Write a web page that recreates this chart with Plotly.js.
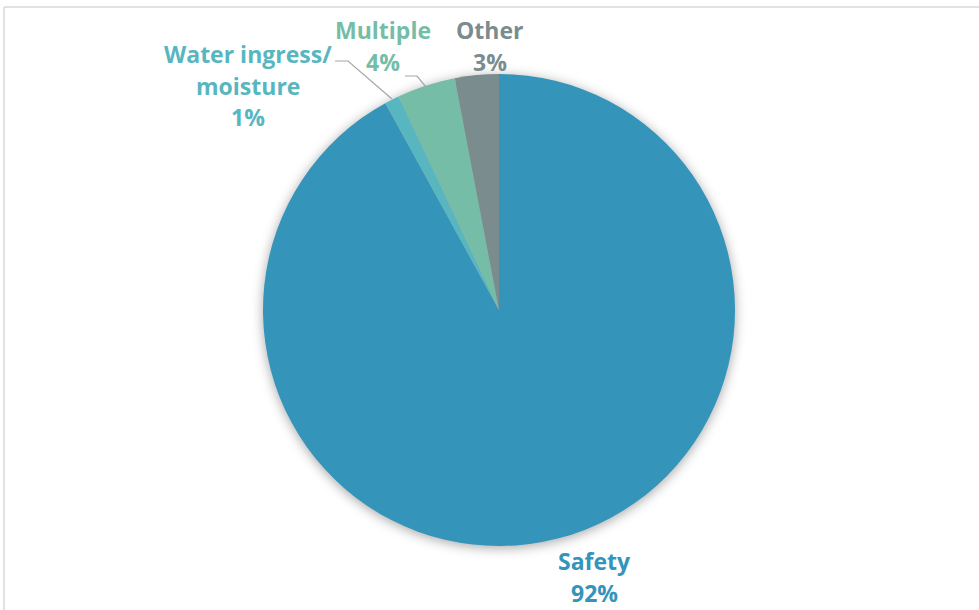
<!DOCTYPE html>
<html>
<head>
<meta charset="utf-8">
<script src="https://cdn.plot.ly/plotly-3.0.1.min.js"></script>
<style>
html,body{margin:0;padding:0;background:#fff;}
#chart{width:979px;height:610px;}
.pielayer{filter:drop-shadow(0px 2px 6px rgba(0,0,0,0.35));}
</style>
</head>
<body>
<div id="chart"></div>
<script>
const categories = ['Safety', 'Water ingress/ moisture', 'Multiple', 'Other'];
const values = [92, 1, 4, 3];
const colors = ['#3494BA', '#58B6C0', '#75BDA7', '#7A8C8E'];

const W = 979, H = 610;
const px = x => x / W;
const py = y => 1 - y / H;

// label placement (pixel centres of each text line block)
const labelPos = [
  {x: 594, y: [561, 593]},
  {x: 248, y: [54, 86, 117]},
  {x: 383, y: [30, 62]},
  {x: 490, y: [30, 62]}
];

const annotations = [];
categories.forEach((c, i) => {
  const lines = c.split('/ ').map((s, k, arr) => k < arr.length - 1 ? s + '/' : s);
  lines.push(values[i] + '%');
  lines.forEach((t, k) => {
    annotations.push({
      text: t, xref: 'paper', yref: 'paper',
      x: px(labelPos[i].x), y: py(labelPos[i].y[k]),
      xanchor: 'center', yanchor: 'middle', showarrow: false,
      font: {family: '"Open Sans", sans-serif', size: 23, weight: 'bold', color: colors[i]}
    });
  });
});

const shapes = [
  // chart border (top and left)
  {type: 'line', xref: 'paper', yref: 'paper', x0: px(4), x1: 1, y0: py(7), y1: py(7), line: {color: '#d9d9d9', width: 1.5}},
  {type: 'line', xref: 'paper', yref: 'paper', x0: px(4), x1: px(4), y0: py(7), y1: 0, line: {color: '#d9d9d9', width: 1.5}},
  // leader lines
  {type: 'path', xref: 'paper', yref: 'paper',
   path: 'M ' + px(335) + ' ' + py(61) + ' L ' + px(348) + ' ' + py(61) + ' L ' + px(392) + ' ' + py(99),
   line: {color: '#a6a6a6', width: 1.2}},
  {type: 'path', xref: 'paper', yref: 'paper',
   path: 'M ' + px(405) + ' ' + py(76) + ' L ' + px(417) + ' ' + py(76) + ' L ' + px(426) + ' ' + py(87),
   line: {color: '#a6a6a6', width: 1.2}}
];

const trace = {
  type: 'pie',
  labels: categories,
  values: values,
  sort: false,
  direction: 'clockwise',
  rotation: 0,
  textinfo: 'none',
  hoverinfo: 'label+percent',
  marker: {colors: colors, line: {width: 0}},
  domain: {x: [px(263), px(735)], y: [py(546), py(74)]},
  showlegend: false
};

Plotly.newPlot('chart', [trace], {
  width: W, height: H,
  margin: {l: 0, r: 0, t: 0, b: 0},
  paper_bgcolor: '#ffffff',
  showlegend: false,
  annotations: annotations,
  shapes: shapes
}, {displayModeBar: false, staticPlot: true});
</script>
</body>
</html>
